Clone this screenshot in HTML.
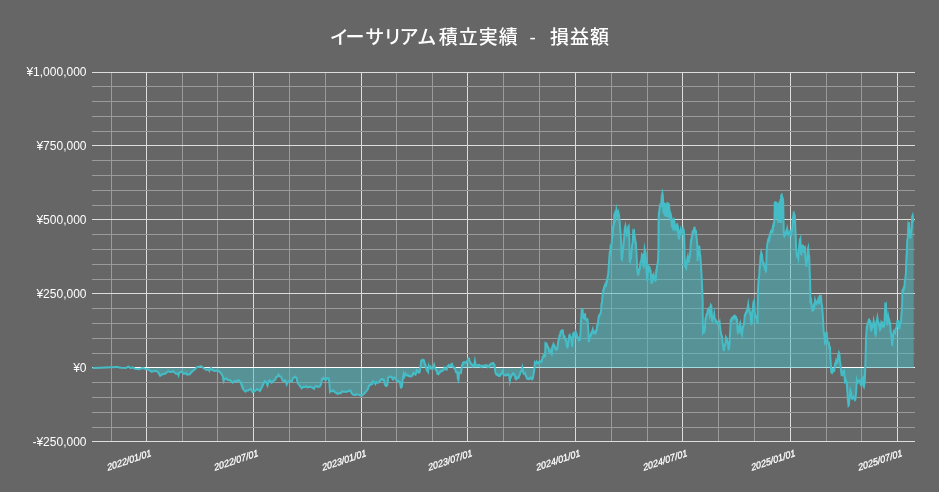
<!DOCTYPE html>
<html lang="ja">
<head>
<meta charset="utf-8">
<title>イーサリアム積立実績 - 損益額</title>
<style>
html,body{margin:0;padding:0;background:#666666;width:939px;height:492px;overflow:hidden}
svg{display:block}
text{font-family:"Liberation Sans","Noto Sans CJK JP",sans-serif;fill:#ffffff}
</style>
</head>
<body>
<svg width="939" height="492" viewBox="0 0 939 492">
<rect x="0" y="0" width="939" height="492" fill="#666666"/>
<text y="44" font-size="19" font-weight="500" xml:space="preserve" style="font-feature-settings:'palt'" x="330.4 345.6 365.8 384.7 400.1 418.0 438.8 458.8 478.8 498.8 518.8 529.4 536.0 550.0 570.0 590.0">イーサリアム積立実績 - 損益額</text>
<g shape-rendering="crispEdges">
<rect x="111" y="72" width="1" height="370" fill="#9a9a9a"/>
<rect x="182" y="72" width="1" height="370" fill="#9a9a9a"/>
<rect x="217" y="72" width="1" height="370" fill="#9a9a9a"/>
<rect x="289" y="72" width="1" height="370" fill="#9a9a9a"/>
<rect x="325" y="72" width="1" height="370" fill="#9a9a9a"/>
<rect x="396" y="72" width="1" height="370" fill="#9a9a9a"/>
<rect x="432" y="72" width="1" height="370" fill="#9a9a9a"/>
<rect x="503" y="72" width="1" height="370" fill="#9a9a9a"/>
<rect x="539" y="72" width="1" height="370" fill="#9a9a9a"/>
<rect x="611" y="72" width="1" height="370" fill="#9a9a9a"/>
<rect x="647" y="72" width="1" height="370" fill="#9a9a9a"/>
<rect x="718" y="72" width="1" height="370" fill="#9a9a9a"/>
<rect x="754" y="72" width="1" height="370" fill="#9a9a9a"/>
<rect x="826" y="72" width="1" height="370" fill="#9a9a9a"/>
<rect x="861" y="72" width="1" height="370" fill="#9a9a9a"/>
<rect x="146" y="72" width="1" height="370" fill="#dddddd"/>
<rect x="253" y="72" width="1" height="370" fill="#dddddd"/>
<rect x="361" y="72" width="1" height="370" fill="#dddddd"/>
<rect x="467" y="72" width="1" height="370" fill="#dddddd"/>
<rect x="575" y="72" width="1" height="370" fill="#dddddd"/>
<rect x="682" y="72" width="1" height="370" fill="#dddddd"/>
<rect x="790" y="72" width="1" height="370" fill="#dddddd"/>
<rect x="897" y="72" width="1" height="370" fill="#dddddd"/>
<rect x="92" y="72" width="823" height="1" fill="#dddddd"/>
<rect x="92" y="145" width="823" height="1" fill="#dddddd"/>
<rect x="92" y="219" width="823" height="1" fill="#dddddd"/>
<rect x="92" y="293" width="823" height="1" fill="#dddddd"/>
<rect x="92" y="367" width="823" height="1" fill="#ffffff"/>
<rect x="92" y="441" width="823" height="1" fill="#dddddd"/>
<rect x="92" y="86" width="823" height="1" fill="#9a9a9a"/>
<rect x="92" y="101" width="823" height="1" fill="#9a9a9a"/>
<rect x="92" y="116" width="823" height="1" fill="#9a9a9a"/>
<rect x="92" y="131" width="823" height="1" fill="#9a9a9a"/>
<rect x="92" y="160" width="823" height="1" fill="#9a9a9a"/>
<rect x="92" y="175" width="823" height="1" fill="#9a9a9a"/>
<rect x="92" y="190" width="823" height="1" fill="#9a9a9a"/>
<rect x="92" y="205" width="823" height="1" fill="#9a9a9a"/>
<rect x="92" y="234" width="823" height="1" fill="#9a9a9a"/>
<rect x="92" y="249" width="823" height="1" fill="#9a9a9a"/>
<rect x="92" y="264" width="823" height="1" fill="#9a9a9a"/>
<rect x="92" y="279" width="823" height="1" fill="#9a9a9a"/>
<rect x="92" y="308" width="823" height="1" fill="#9a9a9a"/>
<rect x="92" y="323" width="823" height="1" fill="#9a9a9a"/>
<rect x="92" y="338" width="823" height="1" fill="#9a9a9a"/>
<rect x="92" y="353" width="823" height="1" fill="#9a9a9a"/>
<rect x="92" y="382" width="823" height="1" fill="#9a9a9a"/>
<rect x="92" y="397" width="823" height="1" fill="#9a9a9a"/>
<rect x="92" y="412" width="823" height="1" fill="#9a9a9a"/>
<rect x="92" y="427" width="823" height="1" fill="#9a9a9a"/>
</g>
<path d="M92.5,367.9 L100.8,367.7 L110.8,367.3 L117.5,366.9 L119.2,367.5 L121.7,367.8 L125.8,368.1 L128.3,366.7 L130.8,368.1 L132.5,367.4 L135.0,368.7 L139.2,369.3 L142.5,368.0 L145.0,368.7 L148.3,369.4 L151.7,371.9 L154.2,370.9 L156.7,371.3 L158.3,372.5 L160.1,375.8 L162.5,374.2 L165.0,373.7 L167.5,371.8 L168.5,371.3 L171.0,372.2 L173.1,371.2 L176.0,373.8 L178.0,373.7 L178.5,375.2 L179.2,372.7 L181.4,371.6 L183.9,373.8 L186.0,373.2 L187.3,374.6 L189.7,374.3 L191.8,371.8 L194.3,369.7 L197.3,366.9 L199.3,366.7 L201.0,366.1 L203.1,367.7 L206.0,369.7 L208.8,369.5 L209.4,370.8 L210.2,368.9 L211.2,368.0 L211.9,369.7 L214.3,370.9 L216.0,370.6 L218.5,370.9 L220.6,372.7 L222.7,376.0 L223.6,381.1 L224.4,379.0 L226.0,378.3 L227.3,379.7 L230.1,380.2 L232.7,382.7 L234.8,380.8 L236.8,381.6 L238.5,380.1 L240.6,382.3 L242.1,386.9 L242.4,386.3 L243.4,389.6 L245.4,391.7 L246.7,390.5 L248.3,390.6 L250.7,388.8 L252.6,392.2 L254.6,391.2 L257.1,389.0 L259.9,391.0 L262.1,386.7 L264.7,381.0 L266.2,382.1 L267.5,385.4 L268.8,380.9 L269.9,380.3 L271.7,382.7 L273.3,380.8 L275.4,379.5 L275.9,377.2 L277.5,376.6 L278.5,374.7 L279.6,376.2 L281.2,377.1 L282.6,380.7 L284.1,381.1 L285.3,380.3 L286.7,384.4 L287.9,382.1 L290.0,380.9 L291.9,381.3 L293.1,377.7 L294.1,377.8 L295.4,376.7 L296.6,377.9 L297.5,382.5 L299.2,385.0 L301.7,388.3 L303.4,386.8 L305.0,387.0 L306.2,386.2 L307.5,387.6 L309.2,386.7 L311.7,387.1 L314.0,388.7 L315.0,386.7 L316.6,386.0 L317.7,387.0 L319.7,386.6 L321.0,384.2 L322.0,378.7 L323.0,379.0 L323.7,377.9 L324.8,379.5 L325.9,379.8 L327.3,378.0 L328.4,378.1 L329.3,381.7 L330.0,391.7 L330.6,391.0 L332.2,391.2 L333.5,390.4 L334.8,392.1 L336.4,392.9 L337.8,394.0 L339.3,393.0 L340.9,393.2 L342.3,391.2 L343.9,392.0 L345.2,391.6 L346.4,392.0 L347.7,391.3 L349.3,390.8 L350.4,390.4 L351.4,392.9 L353.1,394.6 L355.2,395.1 L356.4,394.2 L358.5,394.6 L361.0,395.6 L363.1,394.6 L365.2,392.5 L367.7,389.6 L368.9,385.9 L371.0,384.2 L372.1,384.0 L373.0,381.1 L374.3,382.1 L375.4,384.0 L376.5,382.3 L378.1,382.8 L379.7,382.0 L380.7,379.8 L381.1,379.8 L381.7,379.1 L382.2,378.9 L382.9,379.9 L383.4,379.7 L383.9,380.0 L384.8,384.2 L385.3,385.3 L385.7,385.3 L386.2,386.1 L386.6,386.1 L387.2,385.2 L387.7,382.5 L388.2,377.4 L388.6,377.4 L389.2,376.8 L389.6,376.9 L390.2,376.5 L390.7,377.0 L391.3,376.8 L391.8,377.1 L392.7,379.5 L393.0,379.6 L393.6,377.9 L394.1,377.5 L394.7,378.2 L395.2,378.1 L395.7,378.7 L396.4,380.3 L396.7,380.1 L397.4,381.3 L397.8,381.2 L398.4,381.8 L398.9,381.5 L399.4,381.9 L399.8,381.9 L400.9,387.5 L401.3,387.5 L402.0,386.2 L402.8,378.7 L403.7,373.9 L404.5,376.4 L405.4,373.7 L406.0,374.7 L406.6,375.3 L407.2,375.5 L407.8,375.0 L408.5,375.9 L409.1,375.8 L409.7,376.4 L410.2,376.1 L410.7,376.2 L411.3,376.4 L412.0,375.4 L412.5,375.4 L413.1,373.1 L413.6,372.6 L414.4,374.1 L414.9,374.1 L415.5,374.6 L416.1,373.0 L416.7,370.2 L417.2,370.7 L417.8,370.8 L418.5,372.6 L419.0,372.7 L419.7,371.8 L420.3,367.8 L421.3,360.7 L421.7,360.8 L422.4,359.8 L423.0,360.4 L423.5,360.0 L424.0,360.4 L424.7,363.9 L425.3,364.5 L426.2,368.2 L426.9,370.5 L427.4,370.8 L428.1,372.0 L428.8,365.9 L429.6,367.8 L430.0,368.0 L430.7,366.8 L431.4,368.8 L432.0,369.1 L432.5,369.1 L433.2,367.4 L434.1,364.9 L434.9,367.8 L435.6,369.5 L436.0,369.3 L436.5,369.9 L437.3,373.7 L437.8,374.1 L438.4,374.3 L439.2,372.7 L439.5,372.8 L440.2,371.7 L440.6,371.8 L441.2,371.0 L441.6,371.1 L442.2,370.5 L442.7,370.7 L443.3,369.9 L443.8,369.6 L444.5,367.7 L445.1,368.5 L445.6,368.7 L446.2,369.7 L446.7,369.7 L447.5,366.5 L448.0,366.6 L448.7,365.3 L449.2,366.0 L449.8,365.5 L450.3,365.7 L450.8,366.0 L451.5,364.0 L451.9,363.8 L452.7,366.5 L453.2,366.6 L453.9,367.9 L454.4,367.5 L454.9,367.9 L455.8,372.0 L456.3,372.4 L456.9,372.1 L457.3,372.2 L457.9,379.1 L458.4,380.2 L459.2,373.0 L459.7,373.0 L460.4,372.1 L461.0,372.6 L462.1,364.9 L462.5,364.9 L463.2,362.7 L463.7,362.3 L464.2,362.8 L464.8,362.2 L465.3,362.4 L465.9,362.7 L466.7,361.4 L467.3,361.6 L468.3,358.6 L468.8,358.9 L469.1,358.8 L470.0,362.4 L470.4,362.6 L471.1,364.1 L471.6,364.1 L472.2,365.0 L472.9,366.4 L473.4,366.2 L474.2,365.0 L474.9,360.9 L475.5,364.2 L476.2,365.6 L476.7,365.5 L477.3,365.8 L478.0,365.0 L478.6,365.4 L479.1,364.9 L479.6,365.1 L480.5,366.6 L481.1,367.0 L481.8,365.9 L482.3,366.2 L482.9,365.6 L483.4,365.8 L483.9,366.2 L484.6,365.5 L485.1,365.5 L485.6,365.8 L486.2,365.1 L486.7,365.2 L487.4,367.0 L487.9,366.5 L488.4,367.0 L488.9,367.1 L489.5,365.0 L490.1,364.4 L490.6,364.6 L491.3,363.4 L491.7,363.4 L492.3,363.8 L492.9,363.1 L493.3,363.1 L494.1,364.8 L494.5,364.9 L495.3,372.1 L495.9,373.7 L496.5,374.5 L496.9,374.2 L497.5,374.7 L497.9,374.5 L498.7,376.1 L499.3,375.9 L499.8,375.8 L500.6,374.1 L501.1,374.3 L501.7,373.7 L502.3,371.8 L502.9,373.4 L503.4,374.2 L504.1,375.3 L504.7,375.1 L505.2,375.4 L505.7,374.9 L506.2,375.3 L506.8,374.8 L507.3,375.0 L507.9,374.3 L508.4,374.3 L509.2,375.8 L509.8,380.8 L510.6,377.0 L511.0,377.1 L511.8,374.8 L512.2,374.8 L512.9,373.3 L513.3,373.2 L514.1,374.6 L514.5,374.5 L515.6,379.1 L516.0,379.3 L516.8,377.6 L517.4,378.3 L518.0,377.9 L518.5,377.8 L519.3,375.1 L519.8,374.8 L520.6,371.7 L521.1,371.5 L521.8,369.2 L522.3,367.4 L523.0,371.7 L523.7,373.6 L524.3,373.3 L524.9,373.0 L525.7,375.6 L526.3,376.7 L527.0,378.6 L527.6,378.8 L528.1,379.1 L528.6,378.6 L529.1,379.0 L529.7,378.2 L530.2,378.3 L530.8,377.4 L531.2,377.4 L531.9,379.3 L532.3,379.4 L532.9,378.3 L533.4,375.0 L534.2,370.8 L534.8,363.1 L535.2,363.8 L535.6,363.7 L536.5,361.7 L537.1,362.7 L537.6,362.9 L538.1,363.3 L538.7,361.9 L539.2,361.8 L539.8,362.1 L540.4,361.1 L540.9,361.0 L541.6,361.6 L542.7,357.0 L543.1,357.0 L543.9,354.2 L544.4,354.0 L544.8,353.1 L545.1,357.5 L545.2,354.3 L545.4,343.6 L545.7,343.9 L546.1,343.5 L546.6,344.7 L546.9,344.5 L547.7,347.3 L548.1,347.2 L548.7,348.5 L549.2,351.6 L549.5,351.9 L550.0,352.9 L550.4,352.4 L550.9,350.8 L551.4,353.5 L551.7,354.1 L552.6,346.5 L552.8,346.6 L553.5,344.2 L554.1,345.5 L554.5,345.6 L555.1,347.2 L555.6,349.1 L556.0,348.6 L556.5,349.5 L556.9,349.1 L557.4,348.5 L558.0,342.7 L558.6,340.1 L558.9,340.1 L559.4,335.7 L559.9,334.8 L560.2,335.0 L560.7,331.5 L561.2,331.0 L561.6,331.3 L562.3,330.1 L562.7,330.2 L563.3,334.7 L563.6,335.1 L564.1,338.2 L564.5,338.6 L564.9,337.7 L565.5,339.9 L565.8,339.6 L566.2,340.8 L566.8,346.3 L567.3,347.3 L567.8,347.0 L568.5,340.2 L568.7,340.3 L569.3,335.3 L569.7,334.9 L570.4,337.6 L570.8,337.1 L571.4,338.3 L571.9,345.5 L572.2,345.7 L573.2,333.9 L573.4,334.0 L573.9,333.2 L574.5,336.3 L574.8,336.3 L575.3,335.3 L575.9,332.3 L576.3,333.5 L576.7,334.4 L577.1,337.0 L577.6,338.0 L578.0,337.5 L578.4,337.7 L579.0,340.0 L579.5,339.2 L579.8,339.4 L580.5,333.7 L581.0,321.6 L581.8,309.2 L582.1,309.4 L582.5,309.2 L583.2,317.7 L583.5,317.8 L583.9,318.2 L584.6,314.6 L585.0,314.3 L585.6,319.0 L586.1,319.7 L586.6,320.3 L587.2,319.3 L587.5,319.3 L588.4,331.9 L588.8,341.2 L589.0,341.2 L589.5,337.3 L590.0,336.2 L590.3,336.4 L591.0,334.0 L591.3,334.4 L592.0,331.7 L592.2,331.8 L592.8,329.6 L593.4,332.7 L593.8,332.6 L594.2,333.1 L594.6,332.2 L595.0,332.7 L595.5,331.6 L595.9,332.3 L596.4,330.3 L596.7,330.3 L597.2,325.1 L597.7,323.5 L597.9,323.7 L598.5,317.6 L599.0,315.9 L599.3,316.1 L600.0,314.0 L600.4,313.9 L601.0,312.0 L601.5,303.7 L601.9,303.3 L602.5,296.0 L603.2,290.9 L603.4,291.1 L604.1,287.5 L604.4,287.8 L605.0,285.0 L605.4,285.3 L605.9,283.4 L606.3,284.2 L606.9,280.7 L607.2,280.9 L607.7,276.2 L608.2,274.6 L608.8,265.6 L609.6,254.1 L609.8,254.3 L610.6,246.0 L611.1,246.4 L611.4,246.6 L612.3,235.4 L612.6,235.7 L613.0,228.2 L613.2,228.5 L613.7,223.2 L613.9,223.4 L614.2,215.9 L614.4,216.2 L614.8,214.5 L615.1,216.3 L615.4,217.9 L615.8,215.2 L616.0,210.2 L616.2,213.7 L616.5,210.2 L616.7,211.2 L617.0,212.2 L617.4,215.4 L617.7,214.2 L618.0,213.1 L618.3,213.8 L618.5,213.0 L618.9,215.1 L619.0,215.1 L619.4,219.9 L619.5,219.9 L619.9,226.4 L620.2,230.0 L620.3,230.0 L620.7,234.6 L621.0,240.7 L621.3,244.7 L621.3,249.0 L621.7,259.2 L622.0,259.6 L622.6,252.8 L623.4,246.4 L624.2,237.2 L624.8,228.3 L625.4,226.0 L626.1,231.0 L626.4,231.0 L627.0,235.3 L627.4,234.7 L627.7,234.5 L628.2,227.0 L628.6,226.3 L629.3,237.2 L629.7,261.1 L630.0,261.5 L630.7,254.7 L631.2,255.9 L632.1,245.1 L632.6,243.2 L633.3,230.9 L633.7,231.4 L634.0,231.0 L634.7,238.3 L634.9,238.0 L635.6,243.4 L635.8,243.2 L636.7,256.6 L637.2,270.1 L637.9,274.1 L638.2,273.7 L638.6,274.0 L639.1,269.3 L639.6,268.2 L639.8,268.4 L640.4,263.0 L640.9,261.2 L641.3,260.8 L641.9,255.0 L642.3,255.7 L642.6,255.4 L643.2,265.6 L643.6,266.4 L644.2,260.7 L644.7,249.4 L645.1,251.2 L645.6,252.8 L646.2,265.6 L647.1,280.3 L647.3,280.4 L648.0,270.4 L648.2,270.6 L648.8,267.0 L649.3,268.2 L649.7,267.9 L650.4,271.8 L650.7,271.6 L651.4,282.8 L651.7,282.9 L652.0,282.8 L652.7,275.7 L653.1,276.0 L653.6,274.7 L654.3,279.1 L654.6,278.9 L655.3,280.7 L655.7,280.3 L656.3,270.6 L656.6,270.8 L657.3,264.5 L657.6,264.4 L658.1,259.2 L658.5,247.7 L658.6,225.0 L658.6,220.5 L658.6,220.5 L658.9,213.7 L659.1,213.9 L659.6,208.5 L659.8,208.8 L660.3,205.5 L660.5,205.8 L661.0,204.2 L661.2,204.5 L661.8,195.8 L662.4,193.3 L662.9,196.6 L663.4,212.8 L663.8,202.3 L664.2,214.5 L664.6,203.1 L665.0,216.1 L665.4,204.7 L665.8,215.3 L666.2,203.5 L666.5,216.9 L666.8,205.5 L667.2,216.1 L667.4,202.3 L667.8,216.9 L668.2,202.7 L668.6,217.7 L669.0,203.5 L669.3,211.9 L669.5,211.4 L669.7,213.9 L669.9,213.5 L670.3,216.7 L670.6,215.7 L670.9,217.9 L671.2,216.8 L671.5,218.5 L671.9,224.2 L672.3,223.3 L672.7,225.9 L673.1,223.3 L673.5,225.3 L673.9,222.9 L674.2,224.9 L674.5,223.4 L675.0,227.9 L675.4,226.9 L675.8,228.0 L676.2,225.8 L676.5,225.3 L677.1,228.5 L677.6,225.9 L678.0,227.0 L678.6,238.1 L679.0,238.5 L679.3,238.5 L680.0,231.2 L680.2,231.3 L680.7,229.3 L681.3,232.1 L681.7,231.2 L682.1,232.1 L682.5,232.7 L683.1,229.4 L683.7,232.2 L683.9,231.9 L684.4,243.6 L684.5,252.8 L684.9,265.6 L685.7,267.5 L686.2,268.3 L687.2,259.2 L687.8,256.6 L688.5,261.8 L688.8,261.7 L689.6,256.7 L689.9,256.6 L690.5,247.7 L690.9,241.2 L691.2,241.5 L691.9,236.0 L692.1,236.3 L692.7,231.3 L693.0,231.2 L693.5,231.8 L694.2,227.7 L694.5,227.6 L695.1,230.9 L695.5,230.2 L695.9,230.8 L696.5,237.2 L697.2,243.6 L697.6,261.1 L698.3,247.9 L698.6,248.1 L699.1,246.6 L699.4,246.7 L700.0,255.9 L700.3,255.8 L701.0,265.6 L701.7,278.4 L702.3,291.2 L702.7,303.0 L702.7,313.2 L703.0,330.8 L703.5,329.2 L704.0,332.4 L704.2,332.3 L704.8,330.3 L705.4,319.2 L705.7,319.4 L706.4,314.5 L706.9,313.7 L707.2,314.0 L707.8,309.4 L708.2,308.8 L708.6,309.2 L709.0,308.6 L709.9,316.4 L710.3,315.4 L710.9,305.1 L711.3,305.6 L712.1,320.9 L712.4,321.2 L712.9,318.0 L713.3,317.4 L713.6,317.5 L714.2,314.1 L714.7,318.5 L715.2,319.6 L715.7,321.6 L716.1,321.0 L716.7,322.4 L717.1,322.1 L717.7,323.8 L718.3,322.9 L718.8,323.5 L719.2,323.9 L719.6,322.6 L720.1,327.5 L720.6,331.1 L721.3,335.3 L721.6,335.3 L722.2,337.5 L722.7,343.8 L723.1,345.9 L723.6,350.1 L723.9,350.2 L724.4,346.6 L724.8,345.2 L725.3,344.3 L725.9,337.6 L726.3,338.5 L726.6,338.3 L727.3,341.6 L727.5,341.6 L728.0,343.9 L728.7,349.2 L729.0,349.0 L729.5,344.9 L729.9,336.3 L730.7,320.6 L731.0,320.8 L731.6,318.9 L732.0,319.5 L732.6,317.8 L732.9,318.1 L733.5,316.9 L733.9,317.6 L734.4,316.5 L734.9,317.6 L735.4,316.8 L735.9,318.1 L736.2,317.8 L736.8,320.5 L737.1,320.3 L737.6,331.1 L738.1,332.9 L738.5,332.4 L738.9,332.2 L739.5,326.0 L740.2,323.5 L740.8,327.3 L741.3,333.3 L741.7,333.9 L742.0,334.7 L742.9,327.0 L743.1,327.1 L743.6,325.2 L744.0,324.7 L744.8,315.5 L745.1,315.7 L745.7,313.1 L746.0,313.3 L746.6,311.4 L746.9,311.7 L747.5,307.6 L747.9,306.8 L748.2,304.7 L748.7,308.6 L749.1,309.4 L749.7,312.1 L749.9,311.8 L750.4,313.2 L751.0,323.9 L751.3,324.2 L751.8,323.4 L752.4,310.7 L752.7,310.3 L753.2,304.5 L753.6,301.7 L754.1,300.8 L754.7,311.9 L755.2,316.8 L755.5,317.1 L755.9,317.6 L756.5,316.2 L756.7,316.1 L757.3,322.5 L757.6,322.7 L757.9,291.2 L758.7,278.4 L759.2,276.8 L759.7,267.0 L759.9,267.1 L760.5,256.6 L761.2,252.6 L761.8,255.3 L762.0,255.1 L762.7,261.9 L763.0,262.0 L763.5,264.4 L763.9,263.6 L764.3,264.3 L765.0,268.6 L765.3,268.3 L765.9,271.3 L766.2,270.7 L766.6,252.8 L767.3,243.8 L768.1,240.1 L768.4,240.5 L769.0,238.1 L769.4,239.1 L770.1,234.4 L770.4,234.7 L771.0,230.9 L771.5,230.5 L771.9,231.2 L772.5,228.4 L772.9,229.7 L773.6,224.4 L774.0,224.8 L774.5,218.0 L774.7,210.0 L774.8,202.0 L775.2,215.0 L775.5,201.2 L775.9,216.0 L776.2,202.0 L776.6,218.0 L776.8,210.0 L777.1,208.8 L777.5,219.0 L777.8,203.0 L778.3,223.0 L778.7,210.0 L778.9,209.1 L779.3,220.0 L779.7,201.0 L780.1,222.0 L780.5,199.0 L780.9,223.0 L781.2,195.0 L781.5,220.0 L781.8,193.5 L782.3,218.0 L782.9,199.1 L783.2,200.0 L783.5,220.0 L783.8,235.0 L784.3,236.1 L785.0,234.0 L785.4,234.4 L786.1,231.7 L786.5,232.4 L787.2,228.8 L787.8,232.0 L788.5,234.3 L789.2,233.0 L789.9,231.7 L790.5,234.0 L791.1,235.0 L792.0,229.9 L792.3,230.3 L792.8,220.0 L793.0,220.4 L793.4,215.8 L793.8,217.2 L794.3,214.4 L794.8,216.0 L795.2,225.0 L795.7,237.0 L796.1,247.7 L796.7,254.9 L797.1,254.1 L797.6,255.4 L798.3,258.3 L799.1,247.7 L799.8,240.1 L800.1,240.4 L800.4,239.4 L801.1,254.0 L801.3,254.2 L802.0,246.9 L802.3,247.3 L802.8,245.6 L803.1,245.7 L803.8,251.5 L804.1,252.0 L804.7,247.7 L804.9,247.5 L805.3,256.6 L806.2,265.5 L806.4,265.6 L807.1,259.6 L807.3,259.6 L807.9,248.6 L808.2,247.6 L808.7,253.9 L809.2,256.6 L809.7,272.0 L810.2,284.8 L810.4,302.7 L810.7,302.9 L811.2,301.4 L811.8,307.4 L812.5,310.8 L812.9,310.5 L813.5,307.0 L814.0,309.2 L814.2,309.1 L815.1,300.4 L815.7,302.7 L816.0,302.8 L816.4,303.4 L816.9,301.3 L817.3,301.2 L817.7,301.7 L818.2,299.6 L819.0,303.2 L819.3,302.9 L820.0,296.7 L820.3,297.1 L820.8,295.9 L821.0,295.9 L821.6,304.2 L822.0,305.4 L822.8,315.6 L823.3,325.9 L823.8,332.6 L824.3,334.8 L825.1,343.5 L825.4,343.2 L826.0,333.4 L826.4,333.7 L826.7,333.4 L827.5,341.2 L828.0,342.8 L828.4,342.2 L828.8,342.5 L829.3,347.2 L829.7,346.7 L830.1,347.6 L830.1,353.8 L830.7,362.8 L831.3,371.9 L831.8,372.9 L832.1,373.0 L832.7,370.1 L833.1,371.0 L833.5,370.4 L834.0,371.0 L834.2,370.9 L834.8,365.3 L835.3,363.4 L835.6,363.6 L836.1,361.0 L836.7,363.2 L837.1,362.8 L837.6,361.8 L838.2,355.1 L838.9,352.6 L839.4,353.8 L840.0,362.6 L840.3,362.9 L841.0,370.5 L841.6,374.8 L842.0,374.5 L842.3,374.8 L842.9,372.0 L843.3,371.5 L843.7,371.9 L844.1,371.3 L845.0,382.3 L845.3,382.1 L845.8,380.1 L846.3,381.6 L846.7,382.0 L847.4,392.3 L848.0,401.2 L848.5,405.6 L848.8,405.2 L849.3,399.9 L849.8,396.6 L850.4,390.6 L851.0,392.3 L851.4,397.4 L851.9,398.6 L852.2,398.8 L852.8,397.0 L853.1,396.7 L853.6,397.6 L854.0,397.1 L854.4,397.4 L855.0,400.1 L855.3,399.9 L856.1,392.3 L856.8,380.1 L857.4,382.0 L857.8,382.4 L858.3,381.1 L858.6,380.9 L859.0,381.3 L859.6,380.3 L859.8,380.3 L860.5,384.1 L860.7,384.2 L861.2,385.2 L861.7,384.2 L862.2,378.3 L862.5,378.5 L862.9,377.9 L863.6,386.1 L863.9,386.7 L864.7,382.0 L865.3,366.6 L865.7,353.8 L866.0,338.7 L866.7,328.2 L866.9,328.4 L867.5,323.5 L867.9,322.7 L868.2,323.0 L868.8,319.7 L869.1,319.5 L869.7,321.8 L870.0,321.6 L870.6,328.2 L871.2,330.4 L871.4,330.2 L872.1,325.3 L872.7,327.0 L873.2,326.3 L873.7,321.2 L874.2,323.6 L874.4,323.6 L875.1,333.4 L875.6,335.1 L876.0,333.9 L876.5,322.0 L877.0,320.0 L877.4,317.7 L877.9,321.1 L878.4,322.0 L879.0,325.3 L879.3,325.2 L880.0,330.0 L880.4,329.7 L880.9,327.4 L881.4,322.4 L881.8,323.0 L882.2,322.6 L882.6,323.3 L883.1,326.4 L883.5,326.0 L883.9,326.5 L884.3,325.9 L884.8,315.6 L885.3,304.2 L885.6,304.5 L885.9,304.1 L886.8,319.5 L887.5,323.9 L887.9,323.3 L888.4,317.2 L888.9,319.9 L889.2,319.8 L889.9,324.2 L890.1,324.0 L890.7,332.3 L891.2,333.5 L892.1,344.8 L892.3,344.9 L892.9,338.7 L893.6,332.2 L893.9,332.9 L894.4,331.9 L894.8,332.3 L895.1,332.7 L895.6,329.2 L896.1,328.4 L896.6,327.2 L897.2,321.9 L897.5,322.1 L898.0,321.0 L898.2,321.0 L898.9,327.7 L899.2,327.5 L899.6,327.8 L900.1,323.1 L900.6,322.0 L900.9,321.8 L901.4,315.6 L902.2,302.8 L902.4,291.5 L902.6,291.7 L903.2,289.5 L903.5,290.3 L904.1,287.3 L904.4,287.5 L904.9,280.1 L905.4,278.4 L905.9,273.1 L906.5,255.7 L906.7,255.8 L907.3,239.8 L907.8,238.0 L908.4,223.8 L908.8,224.5 L909.1,224.1 L909.7,235.2 L910.3,237.6 L910.6,237.6 L911.2,230.1 L911.7,228.0 L912.2,216.6 L912.6,215.5 L913.3,220.2 L913.7,219.5 L913.7,368.0 L92.5,368.0 Z" fill="#46bdc6" fill-opacity="0.5" stroke="none"/>
<path d="M92.5,367.9 L100.8,367.7 L110.8,367.3 L117.5,366.9 L119.2,367.5 L121.7,367.8 L125.8,368.1 L128.3,366.7 L130.8,368.1 L132.5,367.4 L135.0,368.7 L139.2,369.3 L142.5,368.0 L145.0,368.7 L148.3,369.4 L151.7,371.9 L154.2,370.9 L156.7,371.3 L158.3,372.5 L160.1,375.8 L162.5,374.2 L165.0,373.7 L167.5,371.8 L168.5,371.3 L171.0,372.2 L173.1,371.2 L176.0,373.8 L178.0,373.7 L178.5,375.2 L179.2,372.7 L181.4,371.6 L183.9,373.8 L186.0,373.2 L187.3,374.6 L189.7,374.3 L191.8,371.8 L194.3,369.7 L197.3,366.9 L199.3,366.7 L201.0,366.1 L203.1,367.7 L206.0,369.7 L208.8,369.5 L209.4,370.8 L210.2,368.9 L211.2,368.0 L211.9,369.7 L214.3,370.9 L216.0,370.6 L218.5,370.9 L220.6,372.7 L222.7,376.0 L223.6,381.1 L224.4,379.0 L226.0,378.3 L227.3,379.7 L230.1,380.2 L232.7,382.7 L234.8,380.8 L236.8,381.6 L238.5,380.1 L240.6,382.3 L242.1,386.9 L242.4,386.3 L243.4,389.6 L245.4,391.7 L246.7,390.5 L248.3,390.6 L250.7,388.8 L252.6,392.2 L254.6,391.2 L257.1,389.0 L259.9,391.0 L262.1,386.7 L264.7,381.0 L266.2,382.1 L267.5,385.4 L268.8,380.9 L269.9,380.3 L271.7,382.7 L273.3,380.8 L275.4,379.5 L275.9,377.2 L277.5,376.6 L278.5,374.7 L279.6,376.2 L281.2,377.1 L282.6,380.7 L284.1,381.1 L285.3,380.3 L286.7,384.4 L287.9,382.1 L290.0,380.9 L291.9,381.3 L293.1,377.7 L294.1,377.8 L295.4,376.7 L296.6,377.9 L297.5,382.5 L299.2,385.0 L301.7,388.3 L303.4,386.8 L305.0,387.0 L306.2,386.2 L307.5,387.6 L309.2,386.7 L311.7,387.1 L314.0,388.7 L315.0,386.7 L316.6,386.0 L317.7,387.0 L319.7,386.6 L321.0,384.2 L322.0,378.7 L323.0,379.0 L323.7,377.9 L324.8,379.5 L325.9,379.8 L327.3,378.0 L328.4,378.1 L329.3,381.7 L330.0,391.7 L330.6,391.0 L332.2,391.2 L333.5,390.4 L334.8,392.1 L336.4,392.9 L337.8,394.0 L339.3,393.0 L340.9,393.2 L342.3,391.2 L343.9,392.0 L345.2,391.6 L346.4,392.0 L347.7,391.3 L349.3,390.8 L350.4,390.4 L351.4,392.9 L353.1,394.6 L355.2,395.1 L356.4,394.2 L358.5,394.6 L361.0,395.6 L363.1,394.6 L365.2,392.5 L367.7,389.6 L368.9,385.9 L371.0,384.2 L372.1,384.0 L373.0,381.1 L374.3,382.1 L375.4,384.0 L376.5,382.3 L378.1,382.8 L379.7,382.0 L380.7,379.8 L381.1,379.8 L381.7,379.1 L382.2,378.9 L382.9,379.9 L383.4,379.7 L383.9,380.0 L384.8,384.2 L385.3,385.3 L385.7,385.3 L386.2,386.1 L386.6,386.1 L387.2,385.2 L387.7,382.5 L388.2,377.4 L388.6,377.4 L389.2,376.8 L389.6,376.9 L390.2,376.5 L390.7,377.0 L391.3,376.8 L391.8,377.1 L392.7,379.5 L393.0,379.6 L393.6,377.9 L394.1,377.5 L394.7,378.2 L395.2,378.1 L395.7,378.7 L396.4,380.3 L396.7,380.1 L397.4,381.3 L397.8,381.2 L398.4,381.8 L398.9,381.5 L399.4,381.9 L399.8,381.9 L400.9,387.5 L401.3,387.5 L402.0,386.2 L402.8,378.7 L403.7,373.9 L404.5,376.4 L405.4,373.7 L406.0,374.7 L406.6,375.3 L407.2,375.5 L407.8,375.0 L408.5,375.9 L409.1,375.8 L409.7,376.4 L410.2,376.1 L410.7,376.2 L411.3,376.4 L412.0,375.4 L412.5,375.4 L413.1,373.1 L413.6,372.6 L414.4,374.1 L414.9,374.1 L415.5,374.6 L416.1,373.0 L416.7,370.2 L417.2,370.7 L417.8,370.8 L418.5,372.6 L419.0,372.7 L419.7,371.8 L420.3,367.8 L421.3,360.7 L421.7,360.8 L422.4,359.8 L423.0,360.4 L423.5,360.0 L424.0,360.4 L424.7,363.9 L425.3,364.5 L426.2,368.2 L426.9,370.5 L427.4,370.8 L428.1,372.0 L428.8,365.9 L429.6,367.8 L430.0,368.0 L430.7,366.8 L431.4,368.8 L432.0,369.1 L432.5,369.1 L433.2,367.4 L434.1,364.9 L434.9,367.8 L435.6,369.5 L436.0,369.3 L436.5,369.9 L437.3,373.7 L437.8,374.1 L438.4,374.3 L439.2,372.7 L439.5,372.8 L440.2,371.7 L440.6,371.8 L441.2,371.0 L441.6,371.1 L442.2,370.5 L442.7,370.7 L443.3,369.9 L443.8,369.6 L444.5,367.7 L445.1,368.5 L445.6,368.7 L446.2,369.7 L446.7,369.7 L447.5,366.5 L448.0,366.6 L448.7,365.3 L449.2,366.0 L449.8,365.5 L450.3,365.7 L450.8,366.0 L451.5,364.0 L451.9,363.8 L452.7,366.5 L453.2,366.6 L453.9,367.9 L454.4,367.5 L454.9,367.9 L455.8,372.0 L456.3,372.4 L456.9,372.1 L457.3,372.2 L457.9,379.1 L458.4,380.2 L459.2,373.0 L459.7,373.0 L460.4,372.1 L461.0,372.6 L462.1,364.9 L462.5,364.9 L463.2,362.7 L463.7,362.3 L464.2,362.8 L464.8,362.2 L465.3,362.4 L465.9,362.7 L466.7,361.4 L467.3,361.6 L468.3,358.6 L468.8,358.9 L469.1,358.8 L470.0,362.4 L470.4,362.6 L471.1,364.1 L471.6,364.1 L472.2,365.0 L472.9,366.4 L473.4,366.2 L474.2,365.0 L474.9,360.9 L475.5,364.2 L476.2,365.6 L476.7,365.5 L477.3,365.8 L478.0,365.0 L478.6,365.4 L479.1,364.9 L479.6,365.1 L480.5,366.6 L481.1,367.0 L481.8,365.9 L482.3,366.2 L482.9,365.6 L483.4,365.8 L483.9,366.2 L484.6,365.5 L485.1,365.5 L485.6,365.8 L486.2,365.1 L486.7,365.2 L487.4,367.0 L487.9,366.5 L488.4,367.0 L488.9,367.1 L489.5,365.0 L490.1,364.4 L490.6,364.6 L491.3,363.4 L491.7,363.4 L492.3,363.8 L492.9,363.1 L493.3,363.1 L494.1,364.8 L494.5,364.9 L495.3,372.1 L495.9,373.7 L496.5,374.5 L496.9,374.2 L497.5,374.7 L497.9,374.5 L498.7,376.1 L499.3,375.9 L499.8,375.8 L500.6,374.1 L501.1,374.3 L501.7,373.7 L502.3,371.8 L502.9,373.4 L503.4,374.2 L504.1,375.3 L504.7,375.1 L505.2,375.4 L505.7,374.9 L506.2,375.3 L506.8,374.8 L507.3,375.0 L507.9,374.3 L508.4,374.3 L509.2,375.8 L509.8,380.8 L510.6,377.0 L511.0,377.1 L511.8,374.8 L512.2,374.8 L512.9,373.3 L513.3,373.2 L514.1,374.6 L514.5,374.5 L515.6,379.1 L516.0,379.3 L516.8,377.6 L517.4,378.3 L518.0,377.9 L518.5,377.8 L519.3,375.1 L519.8,374.8 L520.6,371.7 L521.1,371.5 L521.8,369.2 L522.3,367.4 L523.0,371.7 L523.7,373.6 L524.3,373.3 L524.9,373.0 L525.7,375.6 L526.3,376.7 L527.0,378.6 L527.6,378.8 L528.1,379.1 L528.6,378.6 L529.1,379.0 L529.7,378.2 L530.2,378.3 L530.8,377.4 L531.2,377.4 L531.9,379.3 L532.3,379.4 L532.9,378.3 L533.4,375.0 L534.2,370.8 L534.8,363.1 L535.2,363.8 L535.6,363.7 L536.5,361.7 L537.1,362.7 L537.6,362.9 L538.1,363.3 L538.7,361.9 L539.2,361.8 L539.8,362.1 L540.4,361.1 L540.9,361.0 L541.6,361.6 L542.7,357.0 L543.1,357.0 L543.9,354.2 L544.4,354.0 L544.8,353.1 L545.1,357.5 L545.2,354.3 L545.4,343.6 L545.7,343.9 L546.1,343.5 L546.6,344.7 L546.9,344.5 L547.7,347.3 L548.1,347.2 L548.7,348.5 L549.2,351.6 L549.5,351.9 L550.0,352.9 L550.4,352.4 L550.9,350.8 L551.4,353.5 L551.7,354.1 L552.6,346.5 L552.8,346.6 L553.5,344.2 L554.1,345.5 L554.5,345.6 L555.1,347.2 L555.6,349.1 L556.0,348.6 L556.5,349.5 L556.9,349.1 L557.4,348.5 L558.0,342.7 L558.6,340.1 L558.9,340.1 L559.4,335.7 L559.9,334.8 L560.2,335.0 L560.7,331.5 L561.2,331.0 L561.6,331.3 L562.3,330.1 L562.7,330.2 L563.3,334.7 L563.6,335.1 L564.1,338.2 L564.5,338.6 L564.9,337.7 L565.5,339.9 L565.8,339.6 L566.2,340.8 L566.8,346.3 L567.3,347.3 L567.8,347.0 L568.5,340.2 L568.7,340.3 L569.3,335.3 L569.7,334.9 L570.4,337.6 L570.8,337.1 L571.4,338.3 L571.9,345.5 L572.2,345.7 L573.2,333.9 L573.4,334.0 L573.9,333.2 L574.5,336.3 L574.8,336.3 L575.3,335.3 L575.9,332.3 L576.3,333.5 L576.7,334.4 L577.1,337.0 L577.6,338.0 L578.0,337.5 L578.4,337.7 L579.0,340.0 L579.5,339.2 L579.8,339.4 L580.5,333.7 L581.0,321.6 L581.8,309.2 L582.1,309.4 L582.5,309.2 L583.2,317.7 L583.5,317.8 L583.9,318.2 L584.6,314.6 L585.0,314.3 L585.6,319.0 L586.1,319.7 L586.6,320.3 L587.2,319.3 L587.5,319.3 L588.4,331.9 L588.8,341.2 L589.0,341.2 L589.5,337.3 L590.0,336.2 L590.3,336.4 L591.0,334.0 L591.3,334.4 L592.0,331.7 L592.2,331.8 L592.8,329.6 L593.4,332.7 L593.8,332.6 L594.2,333.1 L594.6,332.2 L595.0,332.7 L595.5,331.6 L595.9,332.3 L596.4,330.3 L596.7,330.3 L597.2,325.1 L597.7,323.5 L597.9,323.7 L598.5,317.6 L599.0,315.9 L599.3,316.1 L600.0,314.0 L600.4,313.9 L601.0,312.0 L601.5,303.7 L601.9,303.3 L602.5,296.0 L603.2,290.9 L603.4,291.1 L604.1,287.5 L604.4,287.8 L605.0,285.0 L605.4,285.3 L605.9,283.4 L606.3,284.2 L606.9,280.7 L607.2,280.9 L607.7,276.2 L608.2,274.6 L608.8,265.6 L609.6,254.1 L609.8,254.3 L610.6,246.0 L611.1,246.4 L611.4,246.6 L612.3,235.4 L612.6,235.7 L613.0,228.2 L613.2,228.5 L613.7,223.2 L613.9,223.4 L614.2,215.9 L614.4,216.2 L614.8,214.5 L615.1,216.3 L615.4,217.9 L615.8,215.2 L616.0,210.2 L616.2,213.7 L616.5,210.2 L616.7,211.2 L617.0,212.2 L617.4,215.4 L617.7,214.2 L618.0,213.1 L618.3,213.8 L618.5,213.0 L618.9,215.1 L619.0,215.1 L619.4,219.9 L619.5,219.9 L619.9,226.4 L620.2,230.0 L620.3,230.0 L620.7,234.6 L621.0,240.7 L621.3,244.7 L621.3,249.0 L621.7,259.2 L622.0,259.6 L622.6,252.8 L623.4,246.4 L624.2,237.2 L624.8,228.3 L625.4,226.0 L626.1,231.0 L626.4,231.0 L627.0,235.3 L627.4,234.7 L627.7,234.5 L628.2,227.0 L628.6,226.3 L629.3,237.2 L629.7,261.1 L630.0,261.5 L630.7,254.7 L631.2,255.9 L632.1,245.1 L632.6,243.2 L633.3,230.9 L633.7,231.4 L634.0,231.0 L634.7,238.3 L634.9,238.0 L635.6,243.4 L635.8,243.2 L636.7,256.6 L637.2,270.1 L637.9,274.1 L638.2,273.7 L638.6,274.0 L639.1,269.3 L639.6,268.2 L639.8,268.4 L640.4,263.0 L640.9,261.2 L641.3,260.8 L641.9,255.0 L642.3,255.7 L642.6,255.4 L643.2,265.6 L643.6,266.4 L644.2,260.7 L644.7,249.4 L645.1,251.2 L645.6,252.8 L646.2,265.6 L647.1,280.3 L647.3,280.4 L648.0,270.4 L648.2,270.6 L648.8,267.0 L649.3,268.2 L649.7,267.9 L650.4,271.8 L650.7,271.6 L651.4,282.8 L651.7,282.9 L652.0,282.8 L652.7,275.7 L653.1,276.0 L653.6,274.7 L654.3,279.1 L654.6,278.9 L655.3,280.7 L655.7,280.3 L656.3,270.6 L656.6,270.8 L657.3,264.5 L657.6,264.4 L658.1,259.2 L658.5,247.7 L658.6,225.0 L658.6,220.5 L658.6,220.5 L658.9,213.7 L659.1,213.9 L659.6,208.5 L659.8,208.8 L660.3,205.5 L660.5,205.8 L661.0,204.2 L661.2,204.5 L661.8,195.8 L662.4,193.3 L662.9,196.6 L663.4,212.8 L663.8,202.3 L664.2,214.5 L664.6,203.1 L665.0,216.1 L665.4,204.7 L665.8,215.3 L666.2,203.5 L666.5,216.9 L666.8,205.5 L667.2,216.1 L667.4,202.3 L667.8,216.9 L668.2,202.7 L668.6,217.7 L669.0,203.5 L669.3,211.9 L669.5,211.4 L669.7,213.9 L669.9,213.5 L670.3,216.7 L670.6,215.7 L670.9,217.9 L671.2,216.8 L671.5,218.5 L671.9,224.2 L672.3,223.3 L672.7,225.9 L673.1,223.3 L673.5,225.3 L673.9,222.9 L674.2,224.9 L674.5,223.4 L675.0,227.9 L675.4,226.9 L675.8,228.0 L676.2,225.8 L676.5,225.3 L677.1,228.5 L677.6,225.9 L678.0,227.0 L678.6,238.1 L679.0,238.5 L679.3,238.5 L680.0,231.2 L680.2,231.3 L680.7,229.3 L681.3,232.1 L681.7,231.2 L682.1,232.1 L682.5,232.7 L683.1,229.4 L683.7,232.2 L683.9,231.9 L684.4,243.6 L684.5,252.8 L684.9,265.6 L685.7,267.5 L686.2,268.3 L687.2,259.2 L687.8,256.6 L688.5,261.8 L688.8,261.7 L689.6,256.7 L689.9,256.6 L690.5,247.7 L690.9,241.2 L691.2,241.5 L691.9,236.0 L692.1,236.3 L692.7,231.3 L693.0,231.2 L693.5,231.8 L694.2,227.7 L694.5,227.6 L695.1,230.9 L695.5,230.2 L695.9,230.8 L696.5,237.2 L697.2,243.6 L697.6,261.1 L698.3,247.9 L698.6,248.1 L699.1,246.6 L699.4,246.7 L700.0,255.9 L700.3,255.8 L701.0,265.6 L701.7,278.4 L702.3,291.2 L702.7,303.0 L702.7,313.2 L703.0,330.8 L703.5,329.2 L704.0,332.4 L704.2,332.3 L704.8,330.3 L705.4,319.2 L705.7,319.4 L706.4,314.5 L706.9,313.7 L707.2,314.0 L707.8,309.4 L708.2,308.8 L708.6,309.2 L709.0,308.6 L709.9,316.4 L710.3,315.4 L710.9,305.1 L711.3,305.6 L712.1,320.9 L712.4,321.2 L712.9,318.0 L713.3,317.4 L713.6,317.5 L714.2,314.1 L714.7,318.5 L715.2,319.6 L715.7,321.6 L716.1,321.0 L716.7,322.4 L717.1,322.1 L717.7,323.8 L718.3,322.9 L718.8,323.5 L719.2,323.9 L719.6,322.6 L720.1,327.5 L720.6,331.1 L721.3,335.3 L721.6,335.3 L722.2,337.5 L722.7,343.8 L723.1,345.9 L723.6,350.1 L723.9,350.2 L724.4,346.6 L724.8,345.2 L725.3,344.3 L725.9,337.6 L726.3,338.5 L726.6,338.3 L727.3,341.6 L727.5,341.6 L728.0,343.9 L728.7,349.2 L729.0,349.0 L729.5,344.9 L729.9,336.3 L730.7,320.6 L731.0,320.8 L731.6,318.9 L732.0,319.5 L732.6,317.8 L732.9,318.1 L733.5,316.9 L733.9,317.6 L734.4,316.5 L734.9,317.6 L735.4,316.8 L735.9,318.1 L736.2,317.8 L736.8,320.5 L737.1,320.3 L737.6,331.1 L738.1,332.9 L738.5,332.4 L738.9,332.2 L739.5,326.0 L740.2,323.5 L740.8,327.3 L741.3,333.3 L741.7,333.9 L742.0,334.7 L742.9,327.0 L743.1,327.1 L743.6,325.2 L744.0,324.7 L744.8,315.5 L745.1,315.7 L745.7,313.1 L746.0,313.3 L746.6,311.4 L746.9,311.7 L747.5,307.6 L747.9,306.8 L748.2,304.7 L748.7,308.6 L749.1,309.4 L749.7,312.1 L749.9,311.8 L750.4,313.2 L751.0,323.9 L751.3,324.2 L751.8,323.4 L752.4,310.7 L752.7,310.3 L753.2,304.5 L753.6,301.7 L754.1,300.8 L754.7,311.9 L755.2,316.8 L755.5,317.1 L755.9,317.6 L756.5,316.2 L756.7,316.1 L757.3,322.5 L757.6,322.7 L757.9,291.2 L758.7,278.4 L759.2,276.8 L759.7,267.0 L759.9,267.1 L760.5,256.6 L761.2,252.6 L761.8,255.3 L762.0,255.1 L762.7,261.9 L763.0,262.0 L763.5,264.4 L763.9,263.6 L764.3,264.3 L765.0,268.6 L765.3,268.3 L765.9,271.3 L766.2,270.7 L766.6,252.8 L767.3,243.8 L768.1,240.1 L768.4,240.5 L769.0,238.1 L769.4,239.1 L770.1,234.4 L770.4,234.7 L771.0,230.9 L771.5,230.5 L771.9,231.2 L772.5,228.4 L772.9,229.7 L773.6,224.4 L774.0,224.8 L774.5,218.0 L774.7,210.0 L774.8,202.0 L775.2,215.0 L775.5,201.2 L775.9,216.0 L776.2,202.0 L776.6,218.0 L776.8,210.0 L777.1,208.8 L777.5,219.0 L777.8,203.0 L778.3,223.0 L778.7,210.0 L778.9,209.1 L779.3,220.0 L779.7,201.0 L780.1,222.0 L780.5,199.0 L780.9,223.0 L781.2,195.0 L781.5,220.0 L781.8,193.5 L782.3,218.0 L782.9,199.1 L783.2,200.0 L783.5,220.0 L783.8,235.0 L784.3,236.1 L785.0,234.0 L785.4,234.4 L786.1,231.7 L786.5,232.4 L787.2,228.8 L787.8,232.0 L788.5,234.3 L789.2,233.0 L789.9,231.7 L790.5,234.0 L791.1,235.0 L792.0,229.9 L792.3,230.3 L792.8,220.0 L793.0,220.4 L793.4,215.8 L793.8,217.2 L794.3,214.4 L794.8,216.0 L795.2,225.0 L795.7,237.0 L796.1,247.7 L796.7,254.9 L797.1,254.1 L797.6,255.4 L798.3,258.3 L799.1,247.7 L799.8,240.1 L800.1,240.4 L800.4,239.4 L801.1,254.0 L801.3,254.2 L802.0,246.9 L802.3,247.3 L802.8,245.6 L803.1,245.7 L803.8,251.5 L804.1,252.0 L804.7,247.7 L804.9,247.5 L805.3,256.6 L806.2,265.5 L806.4,265.6 L807.1,259.6 L807.3,259.6 L807.9,248.6 L808.2,247.6 L808.7,253.9 L809.2,256.6 L809.7,272.0 L810.2,284.8 L810.4,302.7 L810.7,302.9 L811.2,301.4 L811.8,307.4 L812.5,310.8 L812.9,310.5 L813.5,307.0 L814.0,309.2 L814.2,309.1 L815.1,300.4 L815.7,302.7 L816.0,302.8 L816.4,303.4 L816.9,301.3 L817.3,301.2 L817.7,301.7 L818.2,299.6 L819.0,303.2 L819.3,302.9 L820.0,296.7 L820.3,297.1 L820.8,295.9 L821.0,295.9 L821.6,304.2 L822.0,305.4 L822.8,315.6 L823.3,325.9 L823.8,332.6 L824.3,334.8 L825.1,343.5 L825.4,343.2 L826.0,333.4 L826.4,333.7 L826.7,333.4 L827.5,341.2 L828.0,342.8 L828.4,342.2 L828.8,342.5 L829.3,347.2 L829.7,346.7 L830.1,347.6 L830.1,353.8 L830.7,362.8 L831.3,371.9 L831.8,372.9 L832.1,373.0 L832.7,370.1 L833.1,371.0 L833.5,370.4 L834.0,371.0 L834.2,370.9 L834.8,365.3 L835.3,363.4 L835.6,363.6 L836.1,361.0 L836.7,363.2 L837.1,362.8 L837.6,361.8 L838.2,355.1 L838.9,352.6 L839.4,353.8 L840.0,362.6 L840.3,362.9 L841.0,370.5 L841.6,374.8 L842.0,374.5 L842.3,374.8 L842.9,372.0 L843.3,371.5 L843.7,371.9 L844.1,371.3 L845.0,382.3 L845.3,382.1 L845.8,380.1 L846.3,381.6 L846.7,382.0 L847.4,392.3 L848.0,401.2 L848.5,405.6 L848.8,405.2 L849.3,399.9 L849.8,396.6 L850.4,390.6 L851.0,392.3 L851.4,397.4 L851.9,398.6 L852.2,398.8 L852.8,397.0 L853.1,396.7 L853.6,397.6 L854.0,397.1 L854.4,397.4 L855.0,400.1 L855.3,399.9 L856.1,392.3 L856.8,380.1 L857.4,382.0 L857.8,382.4 L858.3,381.1 L858.6,380.9 L859.0,381.3 L859.6,380.3 L859.8,380.3 L860.5,384.1 L860.7,384.2 L861.2,385.2 L861.7,384.2 L862.2,378.3 L862.5,378.5 L862.9,377.9 L863.6,386.1 L863.9,386.7 L864.7,382.0 L865.3,366.6 L865.7,353.8 L866.0,338.7 L866.7,328.2 L866.9,328.4 L867.5,323.5 L867.9,322.7 L868.2,323.0 L868.8,319.7 L869.1,319.5 L869.7,321.8 L870.0,321.6 L870.6,328.2 L871.2,330.4 L871.4,330.2 L872.1,325.3 L872.7,327.0 L873.2,326.3 L873.7,321.2 L874.2,323.6 L874.4,323.6 L875.1,333.4 L875.6,335.1 L876.0,333.9 L876.5,322.0 L877.0,320.0 L877.4,317.7 L877.9,321.1 L878.4,322.0 L879.0,325.3 L879.3,325.2 L880.0,330.0 L880.4,329.7 L880.9,327.4 L881.4,322.4 L881.8,323.0 L882.2,322.6 L882.6,323.3 L883.1,326.4 L883.5,326.0 L883.9,326.5 L884.3,325.9 L884.8,315.6 L885.3,304.2 L885.6,304.5 L885.9,304.1 L886.8,319.5 L887.5,323.9 L887.9,323.3 L888.4,317.2 L888.9,319.9 L889.2,319.8 L889.9,324.2 L890.1,324.0 L890.7,332.3 L891.2,333.5 L892.1,344.8 L892.3,344.9 L892.9,338.7 L893.6,332.2 L893.9,332.9 L894.4,331.9 L894.8,332.3 L895.1,332.7 L895.6,329.2 L896.1,328.4 L896.6,327.2 L897.2,321.9 L897.5,322.1 L898.0,321.0 L898.2,321.0 L898.9,327.7 L899.2,327.5 L899.6,327.8 L900.1,323.1 L900.6,322.0 L900.9,321.8 L901.4,315.6 L902.2,302.8 L902.4,291.5 L902.6,291.7 L903.2,289.5 L903.5,290.3 L904.1,287.3 L904.4,287.5 L904.9,280.1 L905.4,278.4 L905.9,273.1 L906.5,255.7 L906.7,255.8 L907.3,239.8 L907.8,238.0 L908.4,223.8 L908.8,224.5 L909.1,224.1 L909.7,235.2 L910.3,237.6 L910.6,237.6 L911.2,230.1 L911.7,228.0 L912.2,216.6 L912.6,215.5 L913.3,220.2 L913.7,219.5" fill="none" stroke="#46bdc6" stroke-width="2" stroke-miterlimit="10"/>
<text x="86.5" y="76.3" text-anchor="end" font-size="12">¥1,000,000</text>
<text x="86.5" y="150.3" text-anchor="end" font-size="12">¥750,000</text>
<text x="86.5" y="224.2" text-anchor="end" font-size="12">¥500,000</text>
<text x="86.5" y="298.2" text-anchor="end" font-size="12">¥250,000</text>
<text x="86.5" y="372.2" text-anchor="end" font-size="12">¥0</text>
<text x="86.5" y="446.2" text-anchor="end" font-size="12">-¥250,000</text>
<text x="0" y="0" text-anchor="end" font-size="10" font-style="normal" stroke="#ffffff" stroke-width="0.3" transform="matrix(0.88,-0.3,0.05,1,151.5,456.0)">2022/01/01</text>
<text x="0" y="0" text-anchor="end" font-size="10" font-style="normal" stroke="#ffffff" stroke-width="0.3" transform="matrix(0.88,-0.3,0.05,1,258.5,456.0)">2022/07/01</text>
<text x="0" y="0" text-anchor="end" font-size="10" font-style="normal" stroke="#ffffff" stroke-width="0.3" transform="matrix(0.88,-0.3,0.05,1,366.5,456.0)">2023/01/01</text>
<text x="0" y="0" text-anchor="end" font-size="10" font-style="normal" stroke="#ffffff" stroke-width="0.3" transform="matrix(0.88,-0.3,0.05,1,472.5,456.0)">2023/07/01</text>
<text x="0" y="0" text-anchor="end" font-size="10" font-style="normal" stroke="#ffffff" stroke-width="0.3" transform="matrix(0.88,-0.3,0.05,1,580.5,456.0)">2024/01/01</text>
<text x="0" y="0" text-anchor="end" font-size="10" font-style="normal" stroke="#ffffff" stroke-width="0.3" transform="matrix(0.88,-0.3,0.05,1,687.5,456.0)">2024/07/01</text>
<text x="0" y="0" text-anchor="end" font-size="10" font-style="normal" stroke="#ffffff" stroke-width="0.3" transform="matrix(0.88,-0.3,0.05,1,795.5,456.0)">2025/01/01</text>
<text x="0" y="0" text-anchor="end" font-size="10" font-style="normal" stroke="#ffffff" stroke-width="0.3" transform="matrix(0.88,-0.3,0.05,1,902.5,456.0)">2025/07/01</text>
</svg>
</body>
</html>
